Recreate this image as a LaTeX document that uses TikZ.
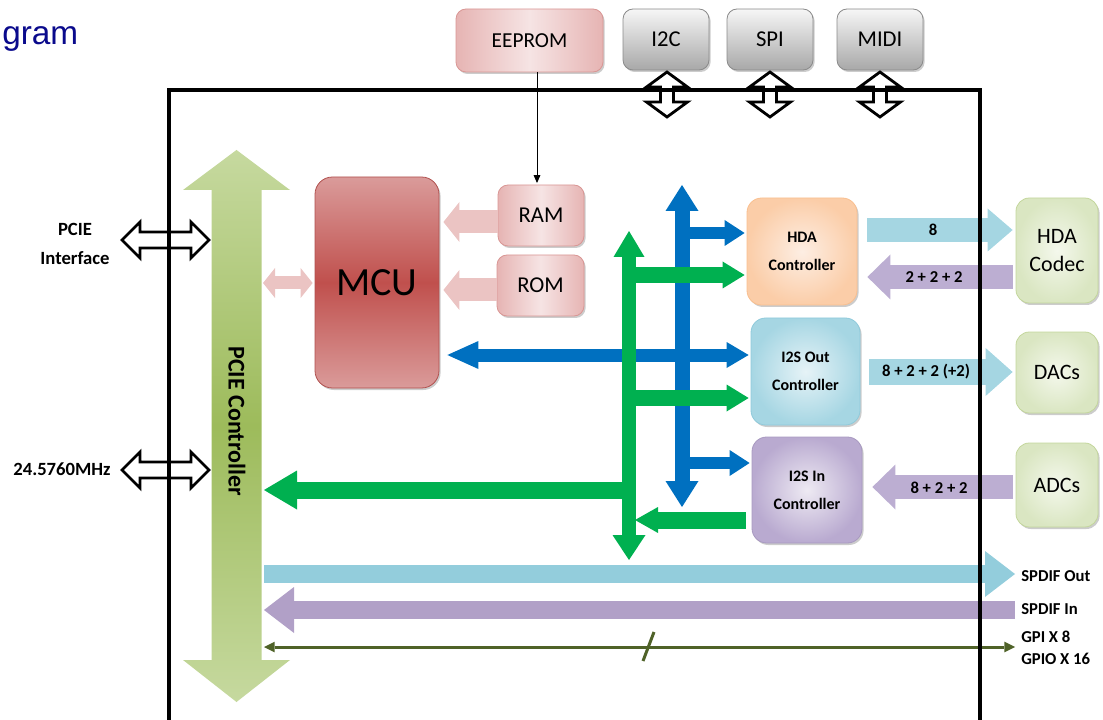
\documentclass[tikz,border=0pt]{standalone}
\usepackage{fontspec}
\setmainfont{Carlito}
\newfontfamily\ttlfont{Liberation Sans}
\usetikzlibrary{arrows.meta,calc,shadows}
\definecolor{ttlblue}{HTML}{0A0A8C}
\definecolor{blueA}{HTML}{0070C0}
\definecolor{greenA}{HTML}{00B050}
\definecolor{ltblue}{HTML}{A5D6E2}
\definecolor{spdo}{HTML}{93CDDC}
\definecolor{purA}{HTML}{BCAED2}
\definecolor{spdi}{HTML}{B1A0C7}
\definecolor{oliveA}{HTML}{4F6228}
\definecolor{pinkAr}{HTML}{EBC4C3}
\definecolor{pkD}{HTML}{E6B4B3}
\definecolor{pkL}{HTML}{F6E4E4}
\definecolor{pkB}{HTML}{D99694}
\definecolor{mcuL}{HTML}{DA9B9A}
\definecolor{mcuD}{HTML}{C0504D}
\definecolor{mcuB}{HTML}{B0504E}
\definecolor{grT}{HTML}{F6F6F6}
\definecolor{grB}{HTML}{A8A8A8}
\definecolor{grE}{HTML}{8A8A8A}
\definecolor{orI}{HTML}{FDEEE3}
\definecolor{orO}{HTML}{FBCDA8}
\definecolor{orB}{HTML}{F9BF8F}
\definecolor{bcI}{HTML}{E6F3F7}
\definecolor{bcO}{HTML}{A6D6E3}
\definecolor{bcB}{HTML}{8FCADB}
\definecolor{pcI}{HTML}{EEEAF3}
\definecolor{pcO}{HTML}{B9AAD0}
\definecolor{pcB}{HTML}{A899C0}
\definecolor{gcI}{HTML}{F4F8EC}
\definecolor{gcO}{HTML}{DAE6C2}
\definecolor{gcB}{HTML}{C3D69B}
\definecolor{pcieL}{HTML}{C6D99F}
\definecolor{pcieD}{HTML}{9DBB5B}
\newcommand\myHollowH[3]{%
  \filldraw[hollow] (#1,#3) -- ({#1+18},{#3-18}) -- ({#1+18},{#3-8}) -- ({#2-18},{#3-8}) -- ({#2-18},{#3-18}) -- (#2,#3) -- ({#2-18},{#3+18}) -- ({#2-18},{#3+8}) -- ({#1+18},{#3+8}) -- ({#1+18},{#3+18}) -- cycle;}
\newcommand\myHollowV[3]{%
  \filldraw[hollow] (#1,#2) -- ({#1+20.5},{#2+15}) -- ({#1+6.5},{#2+15}) -- ({#1+6.5},{#3-15}) -- ({#1+20.5},{#3-15}) -- (#1,#3) -- ({#1-20.5},{#3-15}) -- ({#1-6.5},{#3-15}) -- ({#1-6.5},{#2+15}) -- ({#1-20.5},{#2+15}) -- cycle;}
\begin{document}
\begin{tikzpicture}[x=0.75pt,y=-0.75pt,
  hollow/.style={draw=black, fill=white, line width=2.1pt, line join=miter},
  shad/.style={drop shadow={shadow xshift=1.2pt, shadow yshift=-1.5pt, fill=black, opacity=0.2}},
  bx/.style={inner sep=0pt, align=center, line width=0.6pt, shad},
  pinkbox/.style={bx, rounded corners=7.5pt, draw=pkB, left color=pkD, right color=pkD, middle color=pkL},
  graybox/.style={bx, rounded corners=7.5pt, draw=grE, top color=grT, bottom color=grB},
  mcubox/.style={bx, rounded corners=13pt, draw=mcuB, top color=mcuL, bottom color=mcuL, middle color=mcuD},
  orbox/.style={bx, rounded corners=11pt, draw=orB, inner color=orI, outer color=orO},
  bcbox/.style={bx, rounded corners=11pt, draw=bcB, inner color=bcI, outer color=bcO},
  pcbox/.style={bx, rounded corners=11pt, draw=pcB, inner color=pcI, outer color=pcO},
  gcbox/.style={bx, rounded corners=10pt, draw=gcB, inner color=gcI, outer color=gcO},
  bar/.style n args={3}{line width=#1, -{Triangle[length=#2,width=#3,line width=0pt]}},
  dbar/.style n args={3}{line width=#1, {Triangle[length=#2,width=#3,line width=0pt]}-{Triangle[length=#2,width=#3,line width=0pt]}},
  ctl/.style={font=\bfseries\fontsize{12}{21}\selectfont},
  lbl/.style={font=\bfseries\fontsize{12.5}{15}\selectfont, inner sep=0pt},
  big/.style={font=\fontsize{17}{20}\selectfont},
  ext/.style={font=\fontsize{16.5}{21.5}\selectfont},
  side/.style={font=\bfseries\fontsize{12.5}{15}\selectfont, anchor=west, inner sep=0pt}
]
\useasboundingbox (0,0) rectangle (1103,720);

% title
\node[anchor=base west, inner sep=0pt, text=ttlblue, font=\ttlfont\fontsize{25}{30}\selectfont] (title) at (2,45) {gram};

% top boxes
\node[pinkbox, minimum width=110.25pt, minimum height=47.25pt, font=\fontsize{16}{19}\selectfont] (eeprom) at (529.5,40.5) {EEPROM};
\node[graybox, minimum width=64.5pt, minimum height=45.75pt, big] (i2c) at (666,39.5) {I2C};
\node[graybox, minimum width=64.5pt, minimum height=45.75pt, big] (spi) at (770,39.5) {SPI};
\node[graybox, minimum width=64.5pt, minimum height=45.75pt, big] (midi) at (880,39.5) {MIDI};

% hollow arrows
\myHollowV{667}{72}{117}
\myHollowV{770}{72}{117}
\myHollowV{880}{72}{117}
\myHollowH{122}{209}{240}
\myHollowH{122}{209}{470}
\node[align=center, font=\bfseries\fontsize{14}{21.5}\selectfont] (pcieif) at (75,244) {PCIE\\Interface};
\node[font=\bfseries\fontsize{14}{17}\selectfont] (clk) at (62,469) {24.5760MHz};

% PCIE controller arrow
\path[top color=pcieL, bottom color=pcieL, middle color=pcieD]
  (236.5,150) -- (290,190) -- (261.5,190) -- (261.5,660) -- (290,660) -- (236.5,702)
  -- (183,660) -- (211.5,660) -- (211.5,190) -- (183,190) -- cycle;
\node[rotate=-90, font=\bfseries\fontsize{18}{21}\selectfont] (pcie) at (237,421) {PCIE Controller};

% MCU, RAM, ROM
\node[mcubox, minimum width=93pt, minimum height=158.25pt, font=\fontsize{30}{34}\selectfont] (mcu) at (377,282.5) {MCU};
\node[pinkbox, minimum width=64.5pt, minimum height=45.75pt, big] (ram) at (541,215.5) {RAM};
\node[pinkbox, minimum width=65.25pt, minimum height=45.75pt, big] (rom) at (540.5,285.5) {ROM};

% controllers
\node[orbox, minimum width=82.5pt, minimum height=80.25pt, ctl] (hda) at (802,251.5) {HDA\\Controller};
\node[bcbox, minimum width=81.75pt, minimum height=80.25pt, ctl] (i2so) at (805.5,371.5) {I2S Out\\Controller};
\node[pcbox, minimum width=82.5pt, minimum height=79.5pt, ctl] (i2si) at (807,490) {I2S In\\Controller};

% external blocks
\node[gcbox, minimum width=61.5pt, minimum height=78.75pt, ext] (codec) at (1057,250.5) {HDA\\Codec};
\node[gcbox, minimum width=61.5pt, minimum height=60.75pt, ext] (dacs) at (1057,372.5) {DACs};
\node[gcbox, minimum width=61.5pt, minimum height=63pt, ext] (adcs) at (1057,485) {ADCs};

% EEPROM -> RAM
\coordinate (eline) at (537,0);
\draw[line width=0.75pt, -{Triangle[length=6pt,width=5pt]}] (eeprom.south -| eline) -- ($(ram.north -| eline)+(0,-1.5)$);

% pink arrows
\coordinate (pa1) at (498,222);
\coordinate (pa2) at (497,290);
\coordinate (pm) at (263,283);
\draw[pinkAr, bar={17.25pt}{12pt}{30pt}, shorten >=3pt] (pa1) -- (mcu.east |- pa1);
\draw[pinkAr, bar={17.25pt}{12pt}{30pt}, shorten >=3pt] (pa2) -- (mcu.east |- pa2);
\draw[pinkAr, dbar={9.75pt}{9pt}{22.5pt}, shorten >=1.5pt] (pm) -- (mcu.west |- pm);

% blue bus
\coordinate (bT) at (682,185);
\coordinate (bB) at (682,507);
\coordinate (b1) at (682,233);
\coordinate (b2) at (682,355);
\coordinate (b3) at (682,463);
\draw[blueA, dbar={11.25pt}{19.5pt}{24.75pt}] (bB) -- (bT);
\draw[blueA, bar={9pt}{15pt}{19.5pt}, shorten >=1.5pt] (b1) -- (hda.west |- b1);
\draw[blueA, bar={9pt}{15pt}{19.5pt}, shorten >=1.5pt] (b3) -- (i2si.west |- b3);
\draw[blueA, line width=9.75pt, {Triangle[length=23.25pt,width=21pt,line width=0pt]}-{Triangle[length=16.5pt,width=19.5pt,line width=0pt]}, shorten <=6pt, shorten >=1.5pt] (mcu.east |- b2) -- (i2so.west |- b2);

% green bus
\coordinate (gT) at (629,231);
\coordinate (gB) at (629,560);
\coordinate (g1) at (629,275);
\coordinate (g2) at (629,398);
\coordinate (g3) at (629,490);
\coordinate (g4) at (629,520);
\coordinate (pcG) at (264,490);
\draw[greenA, line width=10.5pt, {Triangle[length=18.75pt,width=24.75pt,line width=0pt]}-{Triangle[length=19.5pt,width=23.25pt,line width=0pt]}] (gB) -- (gT);
\draw[greenA, bar={12pt}{16.5pt}{20.25pt}, shorten >=1.5pt] (g1) -- (hda.west |- g1);
\draw[greenA, bar={12pt}{16.5pt}{20.25pt}, shorten >=1.5pt] (g2) -- (i2so.west |- g2);
\draw[greenA, bar={12.75pt}{24.75pt}{29.25pt}] (g3) -- (pcG);
\draw[greenA, bar={12.75pt}{17.25pt}{19.5pt}, shorten <=4.5pt, shorten >=4.5pt] (i2si.west |- g4) -- (g4);

% right side arrows
\coordinate (r1) at (0,230);
\coordinate (r2) at (0,277);
\coordinate (r3) at (0,372);
\coordinate (r4) at (0,487);
\draw[ltblue, bar={18pt}{18.75pt}{32.25pt}, shorten <=7.5pt, shorten >=2.25pt] (hda.east |- r1) -- (codec.west |- r1);
\draw[purA, bar={18pt}{17.25pt}{33.75pt}, shorten <=2.25pt, shorten >=7.5pt] (codec.west |- r2) -- (hda.east |- r2);
\draw[ltblue, bar={19.5pt}{20.25pt}{36pt}, shorten <=6.75pt, shorten >=2.25pt] (i2so.east |- r3) -- (dacs.west |- r3);
\draw[purA, bar={18pt}{17.25pt}{33.75pt}, shorten <=2.25pt, shorten >=7.5pt] (adcs.west |- r4) -- (i2si.east |- r4);
\node[lbl] (l8) at (933,230) {8};
\node[lbl] (l222) at (934,277) {2 + 2 + 2};
\node[lbl] (ldac) at (926,372) {8 + 2 + 2 (+2)};
\node[lbl] (ladc) at (939,488) {8 + 2 + 2};

% bottom buses
\coordinate (so1) at (264,574);
\coordinate (so2) at (1015,574);
\coordinate (si1) at (1015,610);
\coordinate (si2) at (264,610);
\coordinate (gp1) at (264,647);
\coordinate (gp2) at (1015,647);
\coordinate (sl1) at (643,661);
\coordinate (sl2) at (654,632);
\draw[spdo, bar={13.5pt}{22.5pt}{34.5pt}] (so1) -- (so2);
\draw[spdi, bar={13.5pt}{22.5pt}{34.5pt}] (si1) -- (si2);
\draw[oliveA, dbar={2.25pt}{8pt}{8pt}] (gp1) -- (gp2);
\draw[oliveA, line width=2.25pt] (sl1) -- (sl2);
\node[side] (lso) at (1021,576) {SPDIF Out};
\node[side] (lsi) at (1021,609) {SPDIF In};
\node[side] (lgpi) at (1021,637) {GPI X 8};
\node[side] (lgpio) at (1021,659) {GPIO X 16};

% frame (on top)
\coordinate (fBL) at (169,740);
\coordinate (fTL) at (169,90);
\coordinate (fTR) at (980,90);
\coordinate (fBR) at (980,740);
\draw[line width=3pt, line join=miter] (fBL) -- (fTL) -- (fTR) -- (fBR);
\end{tikzpicture}
\end{document}
